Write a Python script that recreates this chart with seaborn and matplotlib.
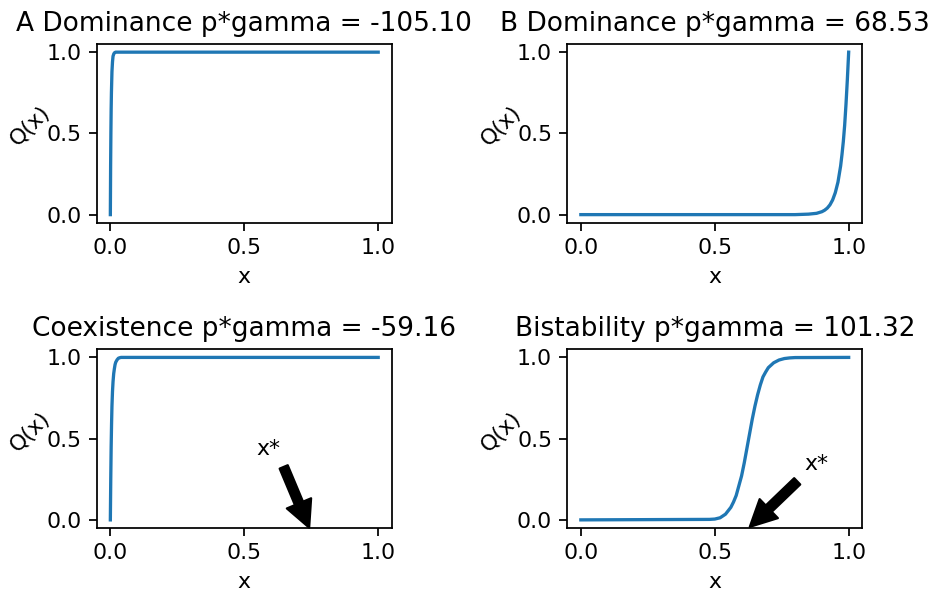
import matplotlib
matplotlib.use("Agg")
import matplotlib.pyplot as plt
import seaborn as sns

# Titles
titles = ["A Dominance p*gamma = -105.10", "B Dominance p*gamma = 68.53",
          "Coexistence p*gamma = -59.16", "Bistability p*gamma = 101.32"]

# Curve values
xa = [0.0, 0.001, 0.002, 0.003, 0.004, 0.006, 0.008, 0.010, 0.013, 0.016, 0.02, 1.0]
ya = [0.0, 0.30, 0.50, 0.65, 0.75, 0.88, 0.94, 0.975, 0.99, 0.997, 1.0, 1.0]

xb = [0.0, 0.80, 0.85, 0.88, 0.90, 0.91, 0.92, 0.93, 0.94, 0.95, 0.96,
      0.97, 0.975, 0.98, 0.985, 0.99, 0.995, 1.0]
yb = [0.0, 0.0, 0.003, 0.008, 0.018, 0.027, 0.040, 0.060, 0.090, 0.135, 0.20,
      0.30, 0.37, 0.45, 0.55, 0.68, 0.83, 1.0]

xc = [0.0, 0.0015, 0.003, 0.0045, 0.006, 0.008, 0.010, 0.0125, 0.015, 0.0175,
      0.020, 0.025, 0.030, 0.035, 0.040, 1.0]
yc = [0.0, 0.25, 0.45, 0.59, 0.70, 0.79, 0.85, 0.90, 0.93, 0.955, 0.97, 0.985,
      0.995, 0.998, 1.0, 1.0]

xd = [0.0, 0.48, 0.50, 0.52, 0.54, 0.56, 0.57, 0.58, 0.59, 0.60, 0.61, 0.62,
      0.63, 0.64, 0.65, 0.66, 0.67, 0.68, 0.69, 0.70, 0.72, 0.74, 0.76,
      0.78, 0.80, 1.0]
yd = [0.0, 0.003, 0.005, 0.013, 0.035, 0.077, 0.11, 0.15, 0.21, 0.27, 0.35,
      0.44, 0.53, 0.62, 0.70, 0.77, 0.83, 0.88, 0.91, 0.937, 0.967, 0.984,
      0.993, 0.997, 0.999, 1.0]

# Annotation points (x* arrows)
coex_xy, coex_text = (0.748, -0.07), (0.545, 0.40)
bist_xy, bist_text = (0.62, -0.06), (0.835, 0.305)

ticks = [0.0, 0.5, 1.0]

fig, axes = plt.subplots(2, 2, figsize=(935 / 158, 595 / 158), dpi=158)
fig.subplots_adjust(left=0.1037, right=0.922, top=0.926, bottom=0.1126,
                    wspace=0.597, hspace=0.708)

data = [(xa, ya), (xb, yb), (xc, yc), (xd, yd)]
for ax, (xs, ys), t in zip(axes.flat, data, titles):
    sns.lineplot(x=xs, y=ys, ax=ax, color="#1f77b4", linewidth=1.5, sort=False)
    ax.set_title(t, fontsize=12)
    ax.set_xlabel("x", fontsize=10)
    ax.set_ylabel("Q(x)", fontsize=10, rotation=45)
    ax.set_xticks(ticks)
    ax.set_yticks(ticks)
    ax.set_xlim(-0.05, 1.05)
    ax.set_ylim(-0.05, 1.05)

axes[1, 0].annotate("x*", xy=coex_xy, xytext=coex_text, annotation_clip=False,
                    arrowprops=dict(facecolor="black", shrink=0.05))
axes[1, 1].annotate("x*", xy=bist_xy, xytext=bist_text, annotation_clip=False,
                    arrowprops=dict(facecolor="black", shrink=0.05))

fig.savefig("out.png", dpi=158)
